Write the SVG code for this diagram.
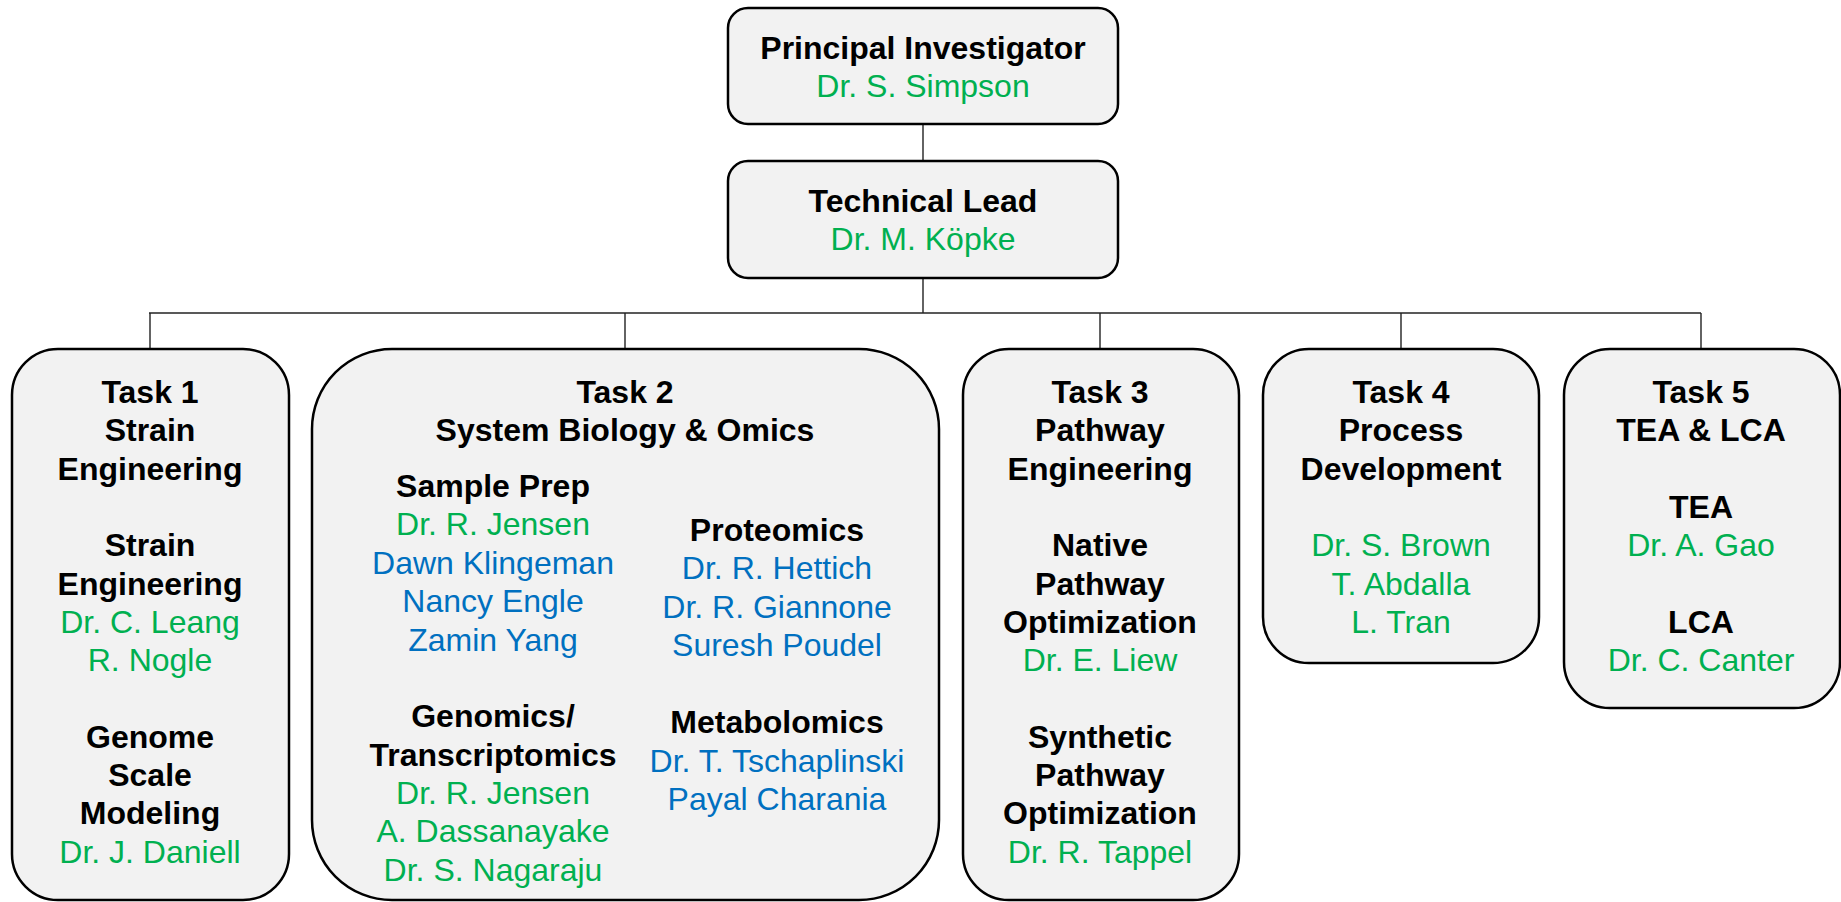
<svg xmlns="http://www.w3.org/2000/svg" width="1841" height="902" viewBox="0 0 1841 902">
<style>
.box{fill:#F2F2F2;stroke:#000;stroke-width:2.5}
.ln{stroke:#222;stroke-width:1.4;fill:none}
text{font-family:"Liberation Sans",Arial,sans-serif;font-size:32px;text-anchor:middle}
.h{font-weight:bold;fill:#000}
.g{fill:#00B050}
.b{fill:#0070C0}
</style>
<rect width="1841" height="902" fill="#fff"/>
<g id="connectors">
<line class="ln" x1="923" y1="124" x2="923" y2="161"/>
<line class="ln" x1="923" y1="278" x2="923" y2="313"/>
<line class="ln" x1="149" y1="313" x2="1701" y2="313"/>
<line class="ln" x1="150" y1="313" x2="150" y2="349"/>
<line class="ln" x1="625" y1="313" x2="625" y2="349"/>
<line class="ln" x1="1100" y1="313" x2="1100" y2="349"/>
<line class="ln" x1="1401" y1="313" x2="1401" y2="349"/>
<line class="ln" x1="1701" y1="313" x2="1701" y2="349"/>
</g>
<g id="pi">
<rect class="box" x="728" y="8" width="390" height="116" rx="20"/>
<text class="h" x="923" y="59">Principal Investigator</text>
<text class="g" x="923" y="97">Dr. S. Simpson</text>
</g>
<g id="tl">
<rect class="box" x="728" y="161" width="390" height="117" rx="20"/>
<text class="h" x="923" y="212">Technical Lead</text>
<text class="g" x="923" y="250">Dr. M. Köpke</text>
</g>
<g id="task1">
<rect class="box" x="12" y="349" width="277" height="551" rx="46"/>
<text class="h" x="150" y="403">Task 1</text>
<text class="h" x="150" y="441">Strain</text>
<text class="h" x="150" y="480">Engineering</text>
<text class="h" x="150" y="556">Strain</text>
<text class="h" x="150" y="595">Engineering</text>
<text class="g" x="150" y="633">Dr. C. Leang</text>
<text class="g" x="150" y="671">R. Nogle</text>
<text class="h" x="150" y="748">Genome</text>
<text class="h" x="150" y="786">Scale</text>
<text class="h" x="150" y="824">Modeling</text>
<text class="g" x="150" y="863">Dr. J. Daniell</text>
</g>
<g id="task2">
<rect class="box" x="312" y="349" width="627" height="551" rx="80"/>
<text class="h" x="625" y="403">Task 2</text>
<text class="h" x="625" y="441">System Biology &amp; Omics</text>
<text class="h" x="493" y="497">Sample Prep</text>
<text class="g" x="493" y="535">Dr. R. Jensen</text>
<text class="b" x="493" y="574">Dawn Klingeman</text>
<text class="b" x="493" y="612">Nancy Engle</text>
<text class="b" x="493" y="651">Zamin Yang</text>
<text class="h" x="493" y="727">Genomics/</text>
<text class="h" x="493" y="766">Transcriptomics</text>
<text class="g" x="493" y="804">Dr. R. Jensen</text>
<text class="g" x="493" y="842">A. Dassanayake</text>
<text class="g" x="493" y="881">Dr. S. Nagaraju</text>
<text class="h" x="777" y="541">Proteomics</text>
<text class="b" x="777" y="579">Dr. R. Hettich</text>
<text class="b" x="777" y="618">Dr. R. Giannone</text>
<text class="b" x="777" y="656">Suresh Poudel</text>
<text class="h" x="777" y="733">Metabolomics</text>
<text class="b" x="777" y="772">Dr. T. Tschaplinski</text>
<text class="b" x="777" y="810">Payal Charania</text>
</g>
<g id="task3">
<rect class="box" x="963" y="349" width="276" height="551" rx="46"/>
<text class="h" x="1100" y="403">Task 3</text>
<text class="h" x="1100" y="441">Pathway</text>
<text class="h" x="1100" y="480">Engineering</text>
<text class="h" x="1100" y="556">Native</text>
<text class="h" x="1100" y="595">Pathway</text>
<text class="h" x="1100" y="633">Optimization</text>
<text class="g" x="1100" y="671">Dr. E. Liew</text>
<text class="h" x="1100" y="748">Synthetic</text>
<text class="h" x="1100" y="786">Pathway</text>
<text class="h" x="1100" y="824">Optimization</text>
<text class="g" x="1100" y="863">Dr. R. Tappel</text>
</g>
<g id="task4">
<rect class="box" x="1263" y="349" width="276" height="314" rx="46"/>
<text class="h" x="1401" y="403">Task 4</text>
<text class="h" x="1401" y="441">Process</text>
<text class="h" x="1401" y="480">Development</text>
<text class="g" x="1401" y="556">Dr. S. Brown</text>
<text class="g" x="1401" y="595">T. Abdalla</text>
<text class="g" x="1401" y="633">L. Tran</text>
</g>
<g id="task5">
<rect class="box" x="1564" y="349" width="276" height="359" rx="46"/>
<text class="h" x="1701" y="403">Task 5</text>
<text class="h" x="1701" y="441">TEA &amp; LCA</text>
<text class="h" x="1701" y="518">TEA</text>
<text class="g" x="1701" y="556">Dr. A. Gao</text>
<text class="h" x="1701" y="633">LCA</text>
<text class="g" x="1701" y="671">Dr. C. Canter</text>
</g>
</svg>
